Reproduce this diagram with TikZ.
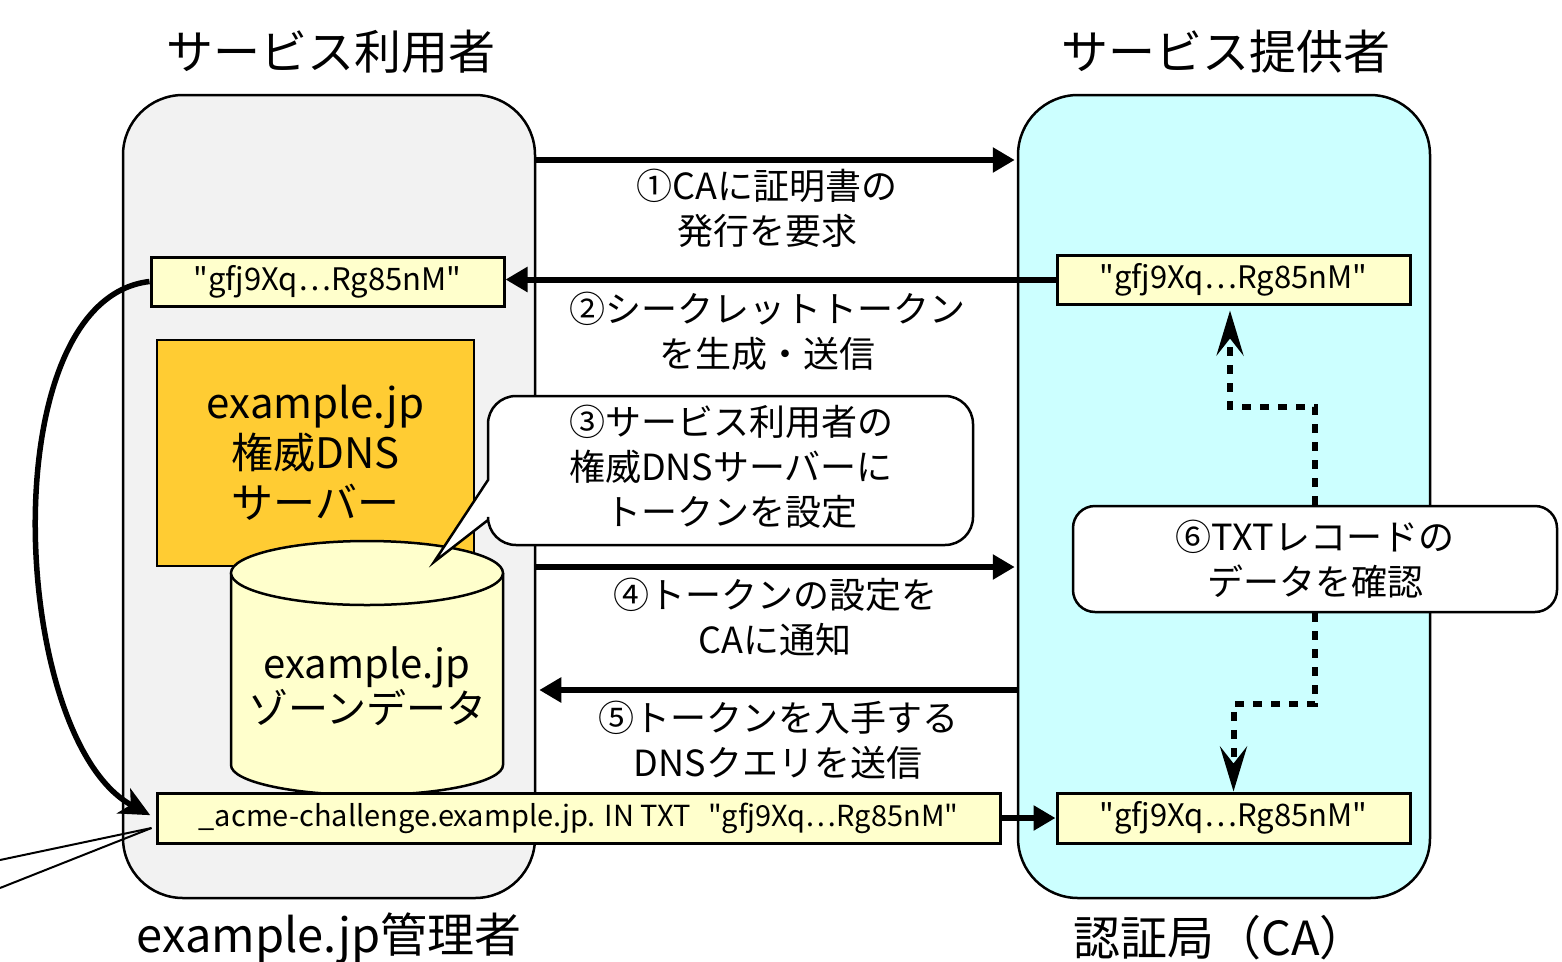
\documentclass[tikz,border=0pt]{standalone}
\usepackage{fontspec}
\newfontfamily\jp{Noto Sans CJK JP}
\usetikzlibrary{arrows.meta,calc}
\definecolor{panelgray}{HTML}{F2F2F2}
\definecolor{panelcyan}{HTML}{CCFFFF}
\definecolor{tokenyellow}{HTML}{FFFFCC}
\definecolor{dnsgold}{HTML}{FFCC33}

\begin{document}
\begin{tikzpicture}[x=1pt,y=-1pt,
  panelbox/.style={draw, line width=2.5pt, rounded corners=60pt,
    minimum width=412pt, minimum height=803pt, inner sep=0pt},
  tokbox/.style={draw, line width=3pt, fill=tokenyellow, minimum height=49pt,
    inner sep=0pt, font=\jp\fontsize{31}{38}\selectfont},
  headtext/.style={inner sep=0pt, font=\jp\fontsize{47}{56}\selectfont},
  msgtext/.style={inner sep=0pt, align=center, font=\jp\fontsize{36}{45}\selectfont},
  bigtext/.style={inner sep=0pt, align=center, font=\jp\fontsize{42}{50}\selectfont},
  flowarrow/.style={line width=6pt, -{Triangle[length=22pt,width=24pt]}},
  dotarrow/.style={line width=6pt, dash pattern=on 9pt off 9pt,
    -{Stealth[length=45pt,width=27pt,inset=17pt]}},
]
\useasboundingbox (0,0) rectangle (1562,961);

% the two parties
\node[panelbox, fill=panelgray] (user) at (329,496.5) {};
\node[panelbox, fill=panelcyan] (ca) at (1224,496.5) {};
\node[headtext] (userT) at (331,52) {サービス利用者};
\node[headtext] (caT) at (1226,52) {サービス提供者};
\node[headtext] (adminT) at (329,938) {example.jp管理者};
\node[headtext] (authT) at (1220,938) {認証局（CA）};

% message levels
\coordinate (r1) at (0,160);
\coordinate (r4) at (0,567);
\coordinate (r5) at (0,690);

% tokens
\node[tokbox, minimum width=353pt] (tokU) at (327.5,281.5) {"gfj9Xq…Rg85nM"};
\node[tokbox, minimum width=353pt] (tokC1) at (1233.5,279.5) {"gfj9Xq…Rg85nM"};
\node[tokbox, minimum width=353pt, minimum height=50pt] (tokC2) at (1233.5,818) {"gfj9Xq…Rg85nM"};

% authoritative DNS server and zone data
\node[draw, line width=2.5pt, fill=dnsgold, minimum width=317pt, minimum height=226pt,
  bigtext] (dns) at (315.5,453) {example.jp\\権威DNS\\サーバー};
\draw[line width=2.5pt, fill=tokenyellow] (231,573) -- (231,765)
  arc[start angle=180, end angle=360, x radius=136pt, y radius=30pt] -- (503,573);
\draw[line width=2.5pt, fill=tokenyellow] (367,573) ellipse [x radius=136pt, y radius=32pt];
\node[bigtext, font=\jp\fontsize{40}{45}\selectfont] (zoneT) at (367,686) {example.jp\\ゾーンデータ};

% TXT record
\node[tokbox, minimum width=843pt, minimum height=50pt, font=\jp\fontsize{29}{36}\selectfont]
  (acme) at (578.5,818) {\_acme-challenge.example.jp. IN TXT\hspace{0.6em}"gfj9Xq…Rg85nM"};

% speech bubble for step 3
\draw[line width=2.5pt, fill=white] (434,562) -- (488,480) [rounded corners=28pt]
  -- (488,396) -- (973,396) -- (973,545) -- (488,545) [sharp corners] -- (488,520) -- cycle;
\node[msgtext] (bubbleT) at (731,467) {③サービス利用者の\\権威DNSサーバーに\\トークンを設定};

% messages between the parties
\draw[flowarrow, shorten >=2pt] (user.east |- r1) -- (ca.west |- r1);
\node[msgtext] (m1) at (767,208) {①CAに証明書の\\発行を要求};
\draw[flowarrow] (tokC1.west) -- (tokU.east |- tokC1.west);
\node[msgtext] (m2) at (767,331) {②シークレットトークン\\を生成・送信};
\draw[flowarrow, shorten >=2pt] (user.east |- r4) -- (ca.west |- r4);
\node[msgtext] (m4) at (775,617) {④トークンの設定を\\CAに通知};
\draw[flowarrow, shorten >=3pt] (ca.west |- r5) -- (user.east |- r5);
\node[msgtext] (m5) at (778,740) {⑤トークンを入手する\\DNSクエリを送信};
\draw[flowarrow] (acme.east) -- (tokC2.west);

% token written into the zone
\draw[line width=5.5pt, -{Stealth[length=30pt,width=28pt,inset=8pt]}, shorten >=6pt]
  (tokU.west) .. controls (-10,300) and (10,740) .. (acme.west);

% lines entering from the left edge
\coordinate (e1) at (0,860);
\coordinate (e2) at (0,888);
\draw[line width=2pt] (e1) -- ([xshift=-4pt,yshift=-10pt]acme.west);
\draw[line width=2pt] (e2) -- ([xshift=-4pt,yshift=-10pt]acme.west);

% step 6: CA checks the TXT record
\node[draw, line width=2.5pt, rounded corners=22pt, fill=white, minimum width=484pt,
  minimum height=106pt, msgtext] (checkB) at (1315,559) {⑥TXTレコードの\\データを確認};
\draw[dotarrow, shorten >=5pt] (checkB.north) -- ++(0,-98) -| ([xshift=-3.5pt]tokC1.south);
\draw[dotarrow] (checkB.south) -- ++(0,91) -| (tokC2.north);
\end{tikzpicture}
\end{document}
